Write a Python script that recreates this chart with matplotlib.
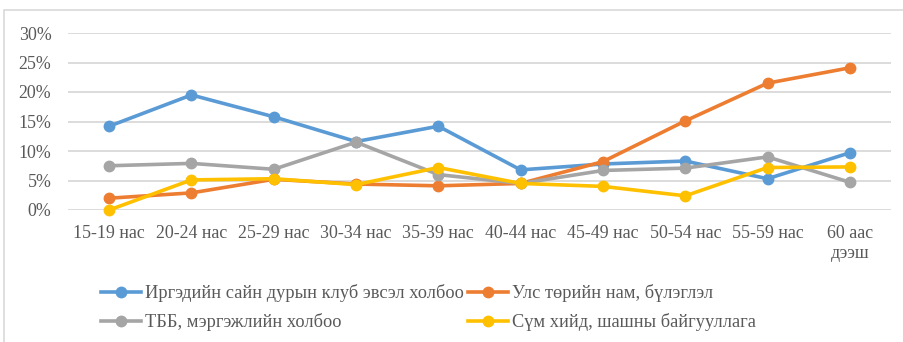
import matplotlib
matplotlib.use("Agg")
import matplotlib.pyplot as plt
from matplotlib.patches import Rectangle

age_groups = ["15-19 нас", "20-24 нас", "25-29 нас", "30-34 нас", "35-39 нас",
              "40-44 нас", "45-49 нас", "50-54 нас", "55-59 нас", "60 аас\nдээш"]

civic_clubs = [14.2, 19.5, 15.8, 11.6, 14.2, 6.8, 7.8, 8.3, 5.3, 9.7]
political_parties = [2.0, 2.9, 5.2, 4.4, 4.1, 4.5, 8.2, 15.1, 21.5, 24.1]
ngo_professional = [7.5, 7.9, 6.9, 11.5, 6.0, 4.5, 6.7, 7.1, 9.0, 4.7]
religious_orgs = [0.0, 5.1, 5.3, 4.3, 7.2, 4.5, 4.0, 2.4, 7.2, 7.3]

series_names = ["Иргэдийн сайн дурын клуб эвсэл холбоо",
                "Улс төрийн нам, бүлэглэл",
                "ТББ, мэргэжлийн холбоо",
                "Сүм хийд, шашны байгууллага"]
series_values = [civic_clubs, political_parties, ngo_professional, religious_orgs]
series_colors = ["#5B9BD5", "#ED7D31", "#A5A5A5", "#FFC000"]

yticks = [0, 5, 10, 15, 20, 25, 30]
ytick_labels = ["0%", "5%", "10%", "15%", "20%", "25%", "30%"]

plt.rcParams["font.family"] = ["Liberation Serif", "DejaVu Serif"]
text_color = "#595959"

W, H = 904, 342
fig = plt.figure(figsize=(W / 100, H / 100), dpi=100)

# outer chart frame
fig.patches.append(Rectangle((4 / W, -0.1), 1.2, (H - 10) / H + 0.1,
                             transform=fig.transFigure, fill=False,
                             edgecolor="#D9D9D9", linewidth=1.2))

ax = fig.add_axes([68 / W, (H - 210) / H, (891 - 68) / W, (210 - 33) / H])
x = list(range(len(age_groups)))

handles = []
for name, vals, col in zip(series_names, series_values, series_colors):
    h, = ax.plot(x, vals, color=col, linewidth=2.6, marker="o", markersize=7.5,
                 label=name, clip_on=False, zorder=3)
    handles.append(h)

ax.set_xlim(-0.5, len(age_groups) - 0.5)
ax.set_ylim(0, 30)
ax.set_yticks(yticks)
ax.set_yticklabels(ytick_labels)
ax.set_xticks(x)
ax.set_xticklabels(age_groups)
ax.grid(axis="y", color="#D9D9D9", linewidth=1.3, zorder=0)
ax.set_axisbelow(True)
for s in ax.spines.values():
    s.set_visible(False)
ax.tick_params(axis="both", length=0, colors=text_color, labelsize=12.9)
ax.tick_params(axis="y", pad=12)
ax.tick_params(axis="x", pad=11)

order = [0, 2, 1, 3]
fig.legend([handles[i] for i in order], [series_names[i] for i in order],
           ncol=2, loc="upper left", bbox_to_anchor=(101 / W, 1 - 284 / H),
           frameon=False, fontsize=13.2, handlelength=2.2, handletextpad=0.22,
           columnspacing=0.2, labelspacing=0.6, labelcolor=text_color,
           borderaxespad=0, borderpad=0)

fig.savefig("out.png", dpi=100)
